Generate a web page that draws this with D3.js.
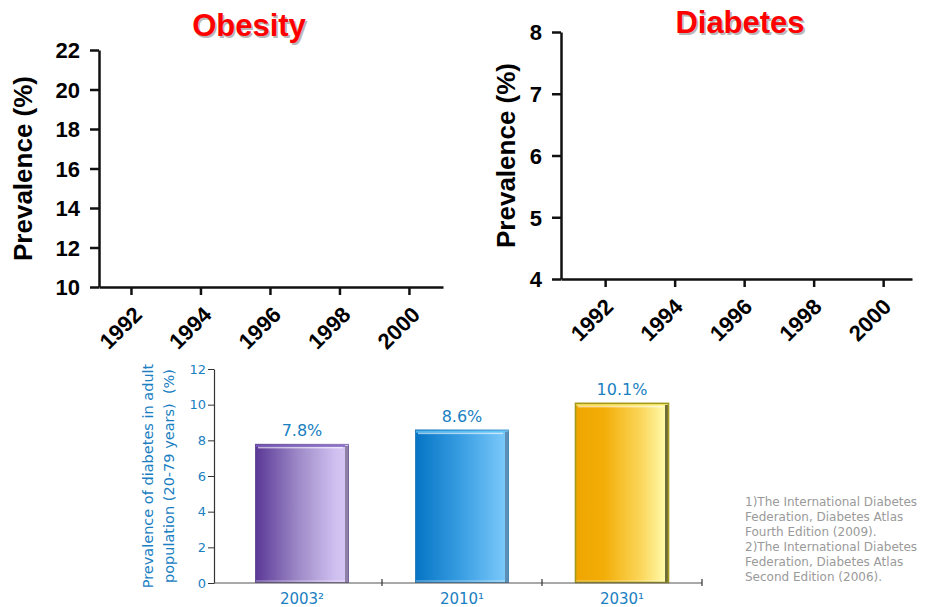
<!DOCTYPE html>
<html>
<head>
<meta charset="utf-8">
<script src="https://cdn.jsdelivr.net/npm/d3@7"></script>
<style>
  html, body { margin: 0; padding: 0; background: #fff; }
  svg { display: block; }
</style>
</head>
<body>
<script>
// ---- data ----
const years = [1992, 1994, 1996, 1998, 2000];
const obesityTicks = [10, 12, 14, 16, 18, 20, 22];
const diabetesTicks = [4, 5, 6, 7, 8];
const barCategories = ["2003\u00B2", "2010\u00B9", "2030\u00B9"];
const barValues = [7.8, 8.6, 10.1];
const barTicks = [0, 2, 4, 6, 8, 10, 12];
const footnotes = [
  "1)The International Diabetes",
  "Federation, Diabetes Atlas",
  "Fourth Edition (2009).",
  "2)The International Diabetes",
  "Federation, Diabetes Atlas",
  "Second Edition (2006)."
];

// ---- styling ----
const ARIAL = "'Liberation Sans', Arial, sans-serif";
const VERD = "'DejaVu Sans', Verdana, sans-serif";
const BLUE = "#1a80c2";
const barPalettes = [
  { stops: [[0, "#5a3796"], [0.45, "#9c88c6"], [0.85, "#cfbff0"], [1, "#d5c8f3"]], edge: "#8e80a6", top: "#7a5cc0", border: "#6d5a98" },
  { stops: [[0, "#0574c4"], [0.5, "#3a9fe3"], [1, "#80ccfb"]], edge: "#5d8fb4", top: "#5cc8f8", border: "#3f86bb" },
  { stops: [[0, "#f0a500"], [0.3, "#f2ad06"], [0.7, "#fbd65a"], [1, "#ffffb6"]], edge: "#6f6b38", top: "#fff27a", border: "#a39a1c" }
];

const svg = d3.select("body").append("svg")
  .attr("width", 947).attr("height", 607);

// ---- empty prevalence frames (obesity / diabetes) ----
function prevalenceFrame(cfg) {
  const x = d3.scaleLinear().domain(cfg.xDomain).range(cfg.xRange);
  const y = d3.scaleLinear().domain(cfg.yDomain).range(cfg.yRange);
  const g = svg.append("g");

  const yAxis = g.append("g")
    .attr("transform", `translate(${cfg.xRange[0]},0)`)
    .call(d3.axisLeft(y).tickValues(cfg.yTicks).tickSize(9).tickPadding(10).tickSizeOuter(0).tickFormat(d3.format("d")));
  const xAxis = g.append("g")
    .attr("transform", `translate(0,${cfg.yRange[0]})`)
    .call(d3.axisBottom(x).tickValues(years).tickSize(8).tickSizeOuter(0).tickFormat(d3.format("d")));

  [yAxis, xAxis].forEach(a => {
    a.select(".domain").attr("stroke", "#111").attr("stroke-width", 2.5);
    a.selectAll(".tick line").attr("stroke", "#111").attr("stroke-width", 2.5);
    a.selectAll("text")
      .attr("font-family", ARIAL).attr("font-weight", "bold")
      .attr("font-size", 22).attr("fill", "#000");
  });
  yAxis.selectAll("text").attr("dy", "0.36em");
  xAxis.selectAll("text")
    .attr("text-anchor", "end")
    .attr("x", 0).attr("y", 0).attr("dy", null)
    .attr("transform", `translate(${cfg.labelDx},29) rotate(-45)`);

  // axis title
  const cy = (cfg.yRange[0] + cfg.yRange[1]) / 2;
  g.append("text")
    .attr("transform", `translate(${cfg.axisTitleX},${cy}) rotate(-90)`)
    .attr("text-anchor", "middle")
    .attr("font-family", ARIAL).attr("font-weight", "bold").attr("font-size", 26)
    .attr("fill", "#000")
    .text("Prevalence (%)");

  // chart title with soft drop shadow
  [["#b8b8b8", 1.6], ["#ff0000", 0]].forEach(([fill, off]) => {
    g.append("text")
      .attr("x", cfg.titleX + off).attr("y", cfg.titleY + off)
      .attr("text-anchor", "middle")
      .attr("font-family", ARIAL).attr("font-weight", "bold").attr("font-size", 31)
      .attr("fill", fill)
      .text(cfg.title);
  });
}

prevalenceFrame({
  title: "Obesity", titleX: 249, titleY: 36,
  xDomain: [1991.08, 2000.98], xRange: [99, 443],
  yDomain: [10, 22], yRange: [287, 50], yTicks: obesityTicks,
  axisTitleX: 32, labelDx: 12
});
prevalenceFrame({
  title: "Diabetes", titleX: 740, titleY: 33,
  xDomain: [1990.73, 2000.83], xRange: [561, 912],
  yDomain: [4, 8], yRange: [279, 32], yTicks: diabetesTicks,
  axisTitleX: 515, labelDx: 9
});

// ---- bar chart of diabetes prevalence ----
const bx = d3.scaleBand().domain(barCategories).range([222, 702])
  .paddingInner(0.4125).paddingOuter(0.20625);
const by = d3.scaleLinear().domain([0, 12]).range([583, 369]);
const bar = svg.append("g");

const defs = svg.append("defs");
barPalettes.forEach((p, i) => {
  const lg = defs.append("linearGradient").attr("id", "barGrad" + i)
    .attr("x1", "0%").attr("x2", "100%").attr("y1", "0%").attr("y2", "0%");
  p.stops.forEach(([o, c]) => lg.append("stop").attr("offset", o).attr("stop-color", c));
});

const bars = bar.selectAll("g.bar").data(barValues).join("g").attr("class", "bar");
bars.each(function (v, i) {
  const g = d3.select(this);
  const p = barPalettes[i];
  const x0 = bx(barCategories[i]), w = bx.bandwidth();
  const y0 = by(v), h = by(0) - by(v);
  g.append("rect").attr("x", x0).attr("y", y0).attr("width", w).attr("height", h)
    .attr("fill", `url(#barGrad${i})`);
  // right bevel
  g.append("rect").attr("x", x0 + w - 4).attr("y", y0 + 2).attr("width", 4).attr("height", h - 2)
    .attr("fill", p.edge);
  // top bevel highlight
  g.append("rect").attr("x", x0 + 1).attr("y", y0 + 1).attr("width", w - 5).attr("height", 2)
    .attr("fill", p.top).attr("opacity", 0.8);
  g.append("rect").attr("x", x0 + 3).attr("y", y0 + 3).attr("width", w - 9).attr("height", 1.5)
    .attr("fill", "#fff").attr("opacity", 0.6);
  // bottom bevel
  g.append("rect").attr("x", x0 + 1).attr("y", by(0) - 3).attr("width", w - 5).attr("height", 2)
    .attr("fill", "#fff").attr("opacity", 0.25);
  // outline
  g.append("rect").attr("x", x0 + 0.5).attr("y", y0 + 0.5).attr("width", w - 1).attr("height", h - 1)
    .attr("fill", "none").attr("stroke", p.border).attr("stroke-width", i === 2 ? 1.6 : 1)
    .attr("opacity", i === 2 ? 1 : 0.7);
});

// value labels
bar.selectAll("text.value").data(barValues).join("text")
  .attr("class", "value")
  .attr("x", (d, i) => bx(barCategories[i]) + bx.bandwidth() / 2)
  .attr("y", d => by(d) - 8)
  .attr("text-anchor", "middle")
  .attr("font-family", VERD).attr("font-size", 16).attr("fill", BLUE)
  .text(d => d3.format(".1f")(d) + "%");

// y axis
const byAxis = bar.append("g").attr("transform", "translate(214,0)")
  .call(d3.axisLeft(by).tickValues(barTicks).tickSize(6).tickPadding(2).tickSizeOuter(0));
byAxis.select(".domain").attr("stroke", "#333").attr("stroke-width", 1.2);
byAxis.selectAll(".tick line").attr("stroke", "#333");
byAxis.selectAll("text").attr("font-family", VERD).attr("font-size", 13).attr("fill", BLUE);

// x axis: baseline, category boundary ticks and labels
const bxAxis = bar.append("g").attr("transform", "translate(0,583)")
  .call(d3.axisBottom(bx).tickSize(0).tickPadding(10).tickSizeOuter(0));
bxAxis.select(".domain").remove();
bxAxis.selectAll("text").attr("font-family", VERD).attr("font-size", 15).attr("fill", BLUE);
bxAxis.append("line").attr("x1", 214).attr("x2", 702).attr("y1", 0).attr("y2", 0)
  .attr("stroke", "#555").attr("stroke-width", 1.2);
bxAxis.selectAll("line.bound").data(barCategories).join("line")
  .attr("class", "bound")
  .attr("x1", d => bx(d) + bx.bandwidth() + (bx.step() - bx.bandwidth()) / 2)
  .attr("x2", d => bx(d) + bx.bandwidth() + (bx.step() - bx.bandwidth()) / 2)
  .attr("y1", -4).attr("y2", 3)
  .attr("stroke", "#333").attr("stroke-width", 1.2);

// y axis title, two lines
const byMid = (by(0) + by(12)) / 2;
[["Prevalence of diabetes in adult", 153], ["population (20-79 years)  (%)", 174]].forEach(([t, xPos]) => {
  bar.append("text")
    .attr("transform", `translate(${xPos},${byMid}) rotate(-90)`)
    .attr("text-anchor", "middle")
    .attr("font-family", VERD).attr("font-size", 14.5).attr("fill", BLUE)
    .style("white-space", "pre")
    .text(t);
});

// sources
svg.append("g").selectAll("text").data(footnotes).join("text")
  .attr("x", 745).attr("y", (d, i) => 506 + i * 15)
  .attr("font-family", VERD).attr("font-size", 12).attr("fill", "#9a9a9a")
  .text(d => d);
</script>
</body>
</html>
